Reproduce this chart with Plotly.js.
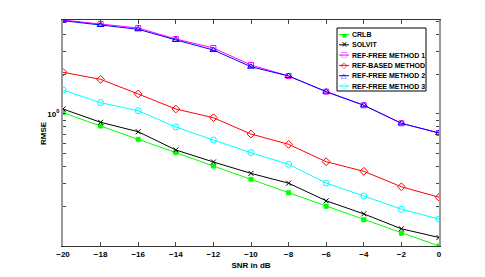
<!DOCTYPE html>
<html>
<head>
<meta charset="utf-8">
<script src="https://cdn.plot.ly/plotly-3.0.1.min.js"></script>
<style>html,body{margin:0;padding:0;background:#fff;}#chart{width:485px;height:277px;}</style>
</head>
<body>
<div id="chart"></div>
<script>
const snr = [-20, -18, -16, -14, -12, -10, -8, -6, -4, -2, 0];
const crlb = [1.023, 0.811, 0.643, 0.509, 0.404, 0.320, 0.253, 0.200, 0.158, 0.125, 0.100];
const solvit = [1.091, 0.865, 0.734, 0.534, 0.433, 0.355, 0.299, 0.220, 0.175, 0.135, 0.116];
const refFree1 = [5.15, 4.81, 4.48, 3.70, 3.16, 2.35, 1.94, 1.476, 1.164, 0.850, 0.718];
const refBased = [2.07, 1.83, 1.418, 1.091, 0.937, 0.705, 0.589, 0.435, 0.368, 0.281, 0.234];
const refFree2 = [5.09, 4.72, 4.38, 3.64, 3.05, 2.28, 1.94, 1.476, 1.164, 0.850, 0.718];
const refFree3 = [1.52, 1.218, 1.059, 0.797, 0.635, 0.509, 0.416, 0.300, 0.239, 0.190, 0.160];
const seriesNames = ['CRLB', 'SOLVIT', 'REF-FREE METHOD 1', 'REF-BASED METHOD', 'REF-FREE METHOD 2', 'REF-FREE METHOD 3'];
const yTickVals = [0.1,0.2,0.3,0.4,0.5,0.6,0.7,0.8,0.9,1,2,3,4,5];
const yTickText = ['','','','','','','','','','10<sup>0</sup>','','','',''];
const xTickVals = [-20,-18,-16,-14,-12,-10,-8,-6,-4,-2,0];

const colors = ['#00ff00', '#000000', '#ff00ff', '#ff0000', '#0000ff', '#00ffff'];
const symbols = ['square', 'x-thin-open', 'square-open', 'diamond-open', 'triangle-up-open', 'circle-open'];
const sizes = [4, 5, 5, 6, 6, 6];
const glyphs = ['■', '×', '□', '◇', '△', '○'];
const glyphSize = [5, 8, 7, 8, 7, 7];
const values = [crlb, solvit, refFree1, refBased, refFree2, refFree3];

const data = values.map((v, i) => ({
  x: snr, y: v, name: seriesNames[i], type: 'scatter', mode: 'lines+markers',
  showlegend: false,
  line: {color: colors[i], width: 1},
  marker: {symbol: symbols[i], size: sizes[i], color: colors[i], line: {color: colors[i], width: 1}}
}));

// custom compact legend (pixel -> paper conversion)
const L = 63, T = 20, W = 376, H = 226;
const px = p => (p - L) / W;
const py = p => (T + H - p) / H;
const shapes = [{type: 'rect', xref: 'paper', yref: 'paper',
  x0: px(337), x1: px(426), y0: py(28), y1: py(91),
  line: {color: '#000', width: 1}, fillcolor: '#fff', layer: 'above'}];
const annotations = [];
seriesNames.forEach((n, i) => {
  const yc = 34.5 + i * 10.3;
  shapes.push({type: 'line', xref: 'paper', yref: 'paper',
    x0: px(339), x1: px(349), y0: py(yc), y1: py(yc),
    line: {color: colors[i], width: 1}, layer: 'above'});
  annotations.push({xref: 'paper', yref: 'paper', x: px(344), y: py(yc),
    text: glyphs[i], showarrow: false, xanchor: 'center', yanchor: 'middle',
    font: {size: glyphSize[i], color: colors[i], family: 'DejaVu Sans'}});
  annotations.push({xref: 'paper', yref: 'paper', x: px(349.5), y: py(yc),
    text: '<b>' + n + '</b>', showarrow: false, xanchor: 'left', yanchor: 'middle',
    font: {size: 7, color: '#000', family: 'Liberation Sans, Arial, sans-serif'}});
});
annotations.push({xref: 'paper', yref: 'paper', x: px(43), y: py(133),
  text: '<b>RMSE</b>', textangle: -90, showarrow: false, xanchor: 'center', yanchor: 'middle',
  font: {size: 8, color: '#000'}});

const layout = {
  width: 485, height: 277,
  margin: {l: 63, r: 46, t: 20, b: 31},
  paper_bgcolor: '#fff', plot_bgcolor: '#fff',
  font: {family: 'Liberation Sans, Arial, sans-serif', size: 8, color: '#000'},
  showlegend: false,
  shapes: shapes, annotations: annotations,
  xaxis: {range: [-20, 0], tickvals: xTickVals, ticks: 'inside', ticklen: 4,
    showline: true, linecolor: '#333', linewidth: 1, mirror: 'ticks',
    showgrid: false, zeroline: false,
    tickfont: {size: 8, weight: 'bold'},
    title: {text: 'SNR in dB', font: {size: 8, weight: 'bold'}, standoff: 4}},
  yaxis: {type: 'log', range: [-1, 0.712], tickvals: yTickVals, ticktext: yTickText,
    ticks: 'inside', ticklen: 3, showline: true, linecolor: '#999', linewidth: 2,
    mirror: 'ticks', showgrid: false, zeroline: false,
    tickfont: {size: 8, weight: 'bold'}}
};
Plotly.newPlot('chart', data, layout, {displayModeBar: false, staticPlot: true});
</script>
</body>
</html>
